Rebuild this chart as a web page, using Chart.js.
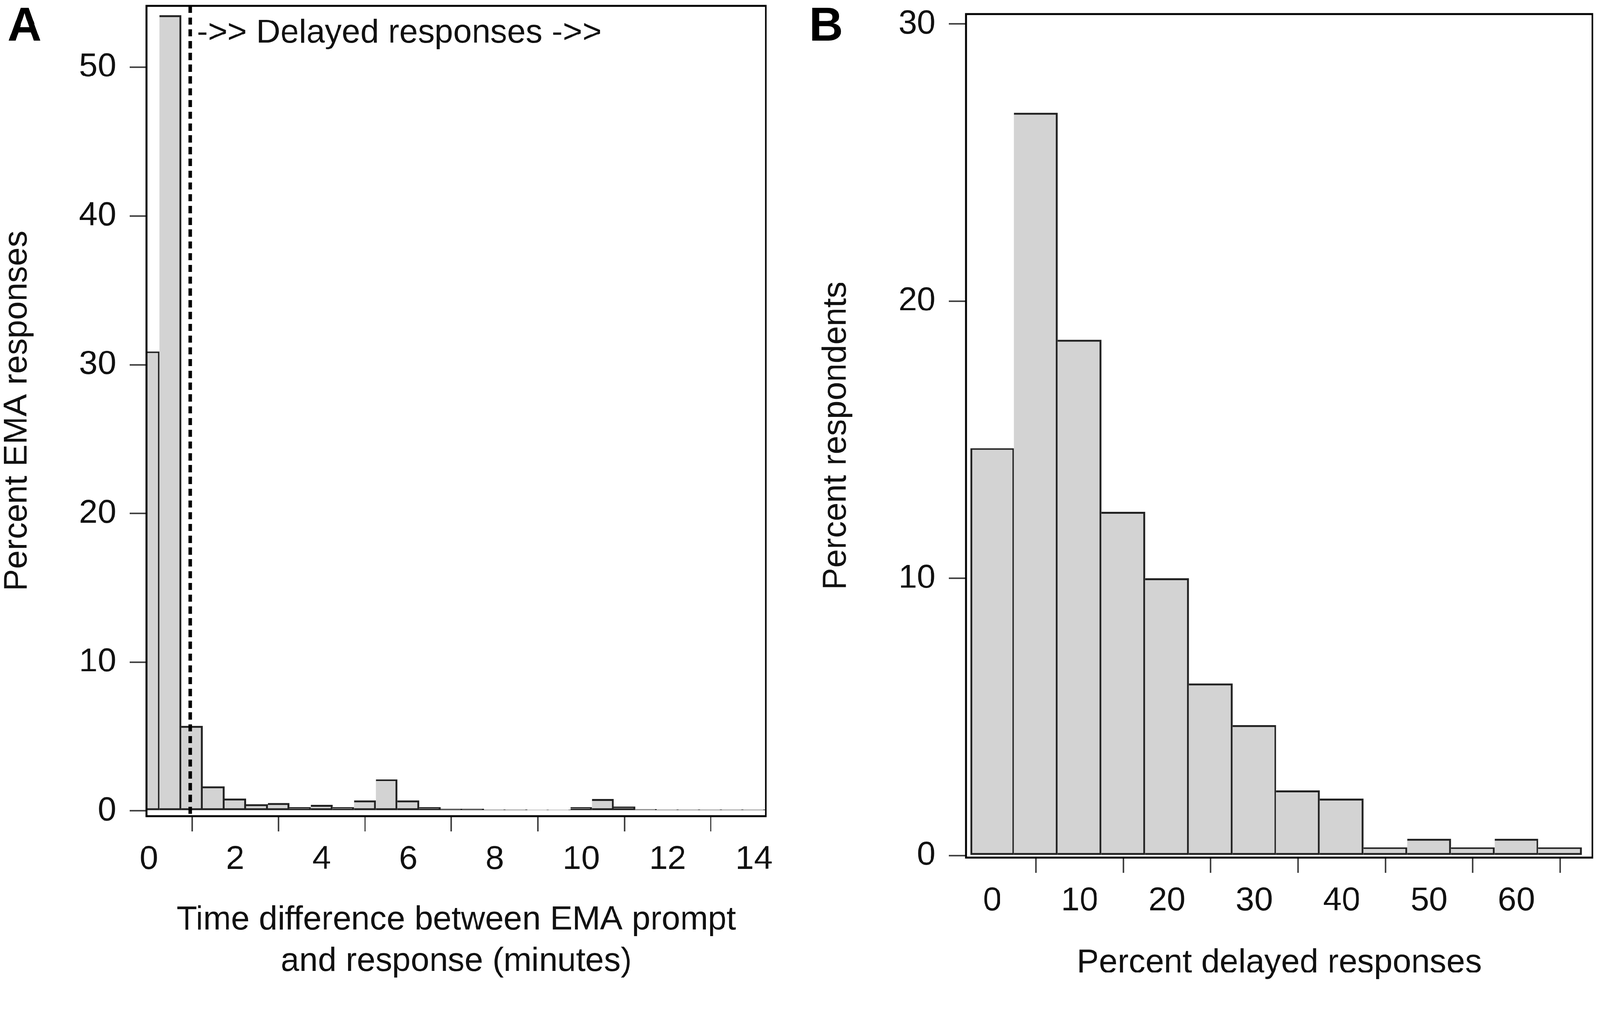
<!DOCTYPE html>
<html>
<head>
<meta charset="utf-8">
<title>EMA response delays</title>
<script src="https://cdn.jsdelivr.net/npm/chart.js@4.4.1/dist/chart.umd.min.js"></script>
<style>
  html, body { margin: 0; padding: 0; background: #fff; overflow: hidden; }
  #stage { position: absolute; left: 0; top: 0; width: 4212px; height: 2603px; transform-origin: 0 0; }
  .panel { position: absolute; top: 0; height: 2603px; }
  #wrapA { left: 0; width: 2100px; }
  #wrapB { left: 2100px; width: 2112px; }
</style>
</head>
<body>
<div id="stage">
  <div class="panel" id="wrapA"><canvas id="chartA"></canvas></div>
  <div class="panel" id="wrapB"><canvas id="chartB"></canvas></div>
</div>
<script>
// Panel A: time between EMA prompt and response (bin centres, minutes)
const delayBins = [0, 0.5, 1, 1.5, 2, 2.5, 3, 3.5, 4, 4.5, 5, 5.5, 6, 6.5, 7,
  7.5, 8, 8.5, 9, 9.5, 10, 10.5, 11, 11.5, 12, 12.5, 13, 13.5, 14];
const emaPercent = [30.9, 53.5, 5.7, 1.65, 0.82, 0.45, 0.53, 0.26, 0.41, 0.25, 0.7,
  2.12, 0.7, 0.26, 0.13, 0.13, 0.08, 0.08, 0.07, 0.07, 0.24, 0.79, 0.3, 0.11,
  0.08, 0.08, 0.08, 0.08, 0.08];
const delayTicks = [0, 2, 4, 6, 8, 10, 12, 14];
const emaPercentTicks = [0, 10, 20, 30, 40, 50];
const delayCutoff = 0.96;
const delayNote = "->> Delayed responses ->>";

// Panel B: share of delayed responses per respondent (bin centres, %)
const delayedShareBins = [0, 5, 10, 15, 20, 25, 30, 35, 40, 45, 50, 55, 60, 65];
const respondentPercent = [14.7, 26.8, 18.6, 12.4, 10.0, 6.2, 4.7, 2.35, 2.05,
  0.3, 0.6, 0.3, 0.6, 0.3];
const delayedShareTicks = [0, 10, 20, 30, 40, 50, 60];
const respondentTicks = [0, 10, 20, 30];

// the layout is drawn for a 4212x2603 page; shrink or grow it to the real viewport
const fitScale = Math.min(window.innerWidth / 4212, window.innerHeight / 2603);
document.getElementById("stage").style.transform = "scale(" + fitScale + ")";

const FONT = "'Liberation Sans', Arial, sans-serif";
Chart.defaults.font.family = FONT;
Chart.defaults.color = "#111";

// keep the plot box where it is in the original figure
function fixedAxis(size) {
  return (scale) => {
    if (scale.isHorizontal()) scale.height = size;
    else scale.width = size;
    scale.paddingLeft = 0;
    scale.paddingRight = 0;
    scale.paddingTop = 0;
    scale.paddingBottom = 0;
  };
}

function tickList(values) {
  return (scale) => {
    scale.ticks = values.map((v) => ({ value: v }));
  };
}

const barStyle = {
  backgroundColor: "#d3d3d3",
  borderColor: "#222",
  borderWidth: (ctx) => ({ top: 5, right: 5, bottom: 5, left: ctx.dataIndex === 0 ? 5 : 0 }),
  borderSkipped: false,
  barPercentage: 1,
  categoryPercentage: 1,
};

const tickGrid = (len) => ({
  drawOnChartArea: false,
  drawTicks: true,
  tickLength: len,
  color: "#444",
  lineWidth: 4,
});

// box round the plot area plus the panel letter
const frame = {
  id: "frame",
  afterDraw(chart, args, opts) {
    const { ctx, chartArea: a } = chart;
    ctx.save();
    ctx.lineWidth = 5;
    ctx.strokeStyle = "#000";
    ctx.strokeRect(a.left, a.top, a.right - a.left, a.bottom - a.top);
    ctx.font = "bold 124px " + FONT;
    ctx.fillStyle = "#000";
    ctx.textBaseline = "alphabetic";
    ctx.fillText(opts.label, opts.x, opts.y);
    ctx.restore();
  },
};

// dotted cut-off line and its note
const cutoffLine = {
  id: "cutoffLine",
  afterDatasetsDraw(chart) {
    const { ctx, chartArea, scales } = chart;
    const x = scales.x.getPixelForValue(delayCutoff);
    ctx.save();
    ctx.beginPath();
    ctx.setLineDash([19, 12]);
    ctx.lineWidth = 9;
    ctx.strokeStyle = "#000";
    ctx.moveTo(x, chartArea.top);
    ctx.lineTo(x, chartArea.bottom);
    ctx.stroke();
    ctx.setLineDash([]);
    ctx.font = "88px " + FONT;
    ctx.fillStyle = "#111";
    ctx.textBaseline = "alphabetic";
    ctx.fillText(delayNote, x + 17, chartArea.top + 97);
    ctx.restore();
  },
};

new Chart(document.getElementById("chartA"), {
  type: "bar",
  data: {
    datasets: [{
      data: delayBins.map((b, i) => ({ x: b, y: emaPercent[i] })),
      ...barStyle,
    }],
  },
  options: {
    responsive: true,
    maintainAspectRatio: false,
    animation: false,
    events: [],
    layout: { padding: { left: 0, top: 15, right: 84, bottom: 0 } },
    plugins: {
      legend: { display: false },
      tooltip: { enabled: false },
      frame: { label: "A", x: 20, y: 107 },
    },
    scales: {
      x: {
        type: "linear",
        min: -0.05,
        max: 14.27,
        offset: false,
        afterBuildTicks: tickList(delayTicks),
        afterFit: fixedAxis(455),
        grid: tickGrid(40),
        border: { display: false },
        ticks: { font: { size: 88 }, padding: 22, maxRotation: 0, autoSkip: false, callback: (v) => String(v) },
        title: {
          display: true,
          text: ["Time difference between EMA prompt", "and response (minutes)"],
          font: { size: 88, lineHeight: 1.24 },
          padding: { top: 0, bottom: 18 },
        },
      },
      y: {
        type: "linear",
        min: -0.35,
        max: 54.14,
        afterBuildTicks: tickList(emaPercentTicks),
        afterFit: fixedAxis(386),
        grid: tickGrid(45),
        border: { display: false },
        ticks: { font: { size: 88 }, padding: 35, callback: (v) => String(v) },
        title: {
          display: true,
          text: "Percent EMA responses",
          font: { size: 88, lineHeight: 1 },
          padding: { top: 2, bottom: 0 },
        },
      },
    },
  },
  plugins: [cutoffLine, frame],
});

new Chart(document.getElementById("chartB"), {
  type: "bar",
  data: {
    datasets: [{
      data: delayedShareBins.map((b, i) => ({ x: b, y: respondentPercent[i] })),
      ...barStyle,
    }],
  },
  options: {
    responsive: true,
    maintainAspectRatio: false,
    animation: false,
    events: [],
    layout: { padding: { left: 0, top: 37, right: 20, bottom: 0 } },
    plugins: {
      legend: { display: false },
      tooltip: { enabled: false },
      frame: { label: "B", x: 30, y: 107 },
    },
    scales: {
      x: {
        type: "linear",
        min: -3.0,
        max: 68.7,
        offset: false,
        afterBuildTicks: tickList(delayedShareTicks),
        afterFit: fixedAxis(346),
        grid: tickGrid(40),
        border: { display: false },
        ticks: { font: { size: 88 }, padding: 22, maxRotation: 0, autoSkip: false, callback: (v) => String(v) },
        title: {
          display: true,
          text: "Percent delayed responses",
          font: { size: 88, lineHeight: 1 },
          padding: { top: 0, bottom: 24 },
        },
      },
      y: {
        type: "linear",
        min: -0.07,
        max: 30.36,
        afterBuildTicks: tickList(respondentTicks),
        afterFit: fixedAxis(443),
        grid: tickGrid(45),
        border: { display: false },
        ticks: { font: { size: 88 }, padding: 35, callback: (v) => String(v) },
        title: {
          display: true,
          text: "Percent respondents",
          font: { size: 88, lineHeight: 1 },
          padding: { top: 58, bottom: 0 },
        },
      },
    },
  },
  plugins: [frame],
});
</script>
</body>
</html>
